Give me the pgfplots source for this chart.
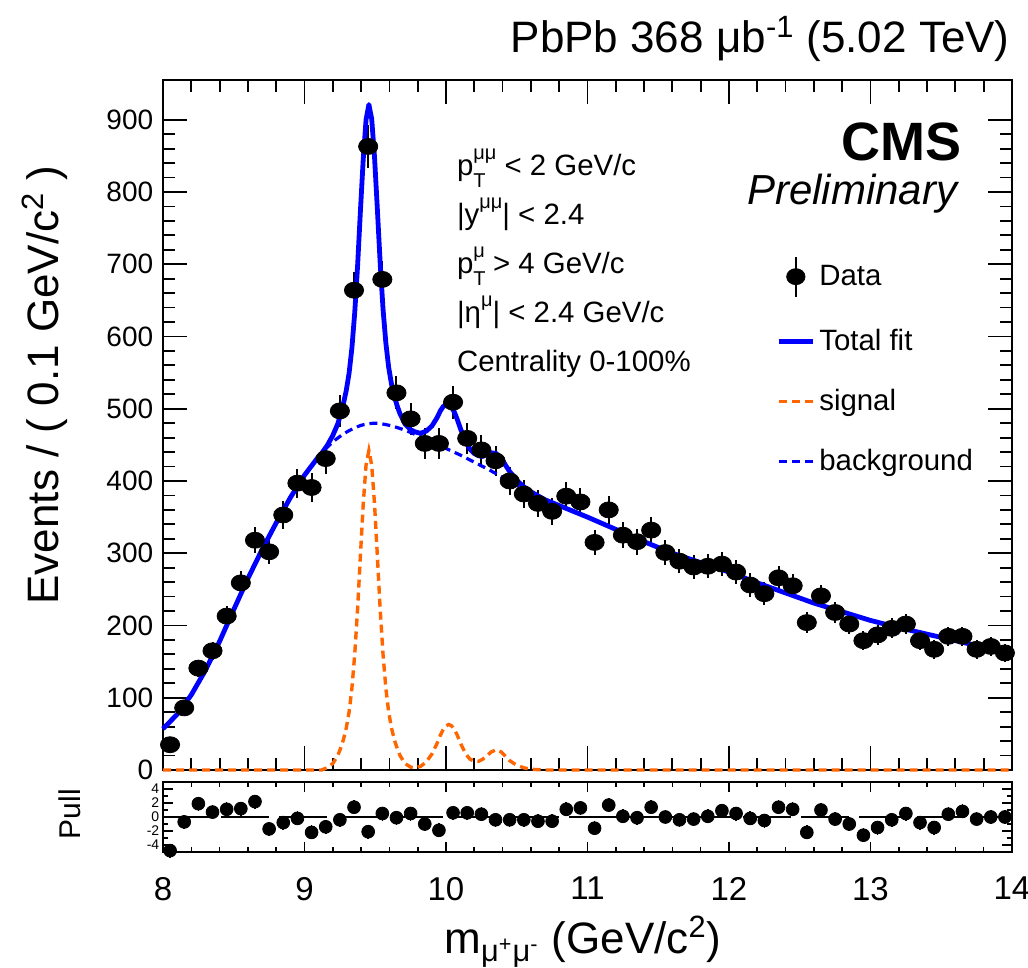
\documentclass[border=0pt]{standalone}
\usepackage{fontspec}
\setmainfont{Liberation Sans}
\usepackage{pgfplots}
\usepackage{pgfplotstable}
\pgfplotsset{compat=1.18}
\definecolor{sigorange}{RGB}{255,102,0}
\newcommand{\fs}[1]{\fontsize{#1}{#1}\selectfont}
\newcommand{\sub}[1]{\raisebox{-6pt}{\fs{10}#1}}
\newcommand{\sups}[1]{\raisebox{8pt}{\fs{10}#1}}

\pgfplotstableread{
m n e
8.05 35 5.9
8.15 86 9.3
8.25 141 11.9
8.35 165 12.8
8.45 213 14.6
8.55 259 16.1
8.65 318 17.8
8.75 302 17.4
8.85 353 18.8
8.95 397 19.9
9.05 391 19.8
9.15 431 20.8
9.25 497 22.3
9.35 664 25.8
9.45 863 29.4
9.55 679 26.1
9.65 522 22.8
9.75 486 22.0
9.85 452 21.3
9.95 452 21.3
10.05 509 22.6
10.15 459 21.4
10.25 443 21.0
10.35 428 20.7
10.45 400 20.0
10.55 382 19.5
10.65 369 19.2
10.75 358 18.9
10.85 379 19.5
10.95 371 19.3
11.05 315 17.7
11.15 360 19.0
11.25 325 18.0
11.35 316 17.8
11.45 332 18.2
11.55 301 17.3
11.65 289 17.0
11.75 281 16.8
11.85 282 16.8
11.95 285 16.9
12.05 274 16.6
12.15 256 16.0
12.25 244 15.6
12.35 266 16.3
12.45 255 16.0
12.55 204 14.3
12.65 241 15.5
12.75 218 14.8
12.85 202 14.2
12.95 179 13.4
13.05 187 13.7
13.15 196 14.0
13.25 202 14.2
13.35 179 13.4
13.45 167 12.9
13.55 185 13.6
13.65 185 13.6
13.75 167 12.9
13.85 171 13.1
13.95 162 12.7
}\datatab

\pgfplotstableread{
m p
8.05 -4.8
8.15 -0.7
8.25 1.9
8.35 0.7
8.45 1.1
8.55 1.2
8.65 2.2
8.75 -1.7
8.85 -0.8
8.95 -0.2
9.05 -2.2
9.15 -1.4
9.25 -0.4
9.35 1.4
9.45 -2.1
9.55 0.5
9.65 -0.1
9.75 0.5
9.85 -1.0
9.95 -1.9
10.05 0.6
10.15 0.6
10.25 0.4
10.35 -0.4
10.45 -0.4
10.55 -0.4
10.65 -0.6
10.75 -0.6
10.85 1.1
10.95 1.3
11.05 -1.6
11.15 1.7
11.25 0.1
11.35 -0.1
11.45 1.4
11.55 0.0
11.65 -0.4
11.75 -0.3
11.85 0.1
11.95 0.9
12.05 0.5
12.15 -0.2
12.25 -0.5
12.35 1.4
12.45 1.1
12.55 -2.2
12.65 1.0
12.75 -0.3
12.85 -1.0
12.95 -2.6
13.05 -1.5
13.15 -0.4
13.25 0.5
13.35 -0.8
13.45 -1.5
13.55 0.4
13.65 0.8
13.75 -0.3
13.85 0.0
13.95 0.0
}\pulltab

\begin{document}
\begin{tikzpicture}[x=1pt,y=1pt]
\useasboundingbox (0,0) rectangle (514,-484);
\begin{axis}[
  at={(81.5pt,-40pt)}, anchor=north west,
  scale only axis, width=424.5pt, height=345pt,
  xmin=8, xmax=14, ymin=0, ymax=955,
  xtick={8,9,...,14}, minor x tick num=4, xticklabels=\empty,
  ytick={0,100,...,900}, minor y tick num=4,
  tick align=inside, tick pos=both,
  major tick length=12pt, minor tick length=6pt,
  axis line style={line width=1.2pt},
  every tick/.style={black, line width=0.9pt},
  /pgf/number format/assume math mode=true,
  yticklabel style={font=\fs{14}, inner sep=1pt, xshift=-3.7pt},
  clip=false,
  legend style={at={(0.722,0.746)}, anchor=north west, draw=none, fill=none,
    font=\fs{14.7}, row sep=13.8pt, inner sep=0pt},
  legend cell align=left,
]
\addplot[only marks, mark=*, mark size=4pt, black, mark options={black, xscale=1.2},
  legend image code/.code={\draw[black,line width=1pt] (0.3cm,-10pt) -- (0.3cm,10pt);
    \fill[black] (0.3cm,0pt) ellipse [x radius=4.6pt, y radius=4pt];},
  error bars/.cd, y dir=both, y explicit, error mark=none,
  error bar style={line width=1pt, black}]
  table[x=m, y=n, y error=e] {\datatab};
\addplot[blue, line width=2.4pt, line join=round] coordinates {
(8.0,57) (8.1,77) (8.2,104) (8.3,138) (8.4,178) (8.5,222) (8.6,265) (8.7,305) (8.8,342) (8.9,377) (9.0,408) (9.1,434) (9.12,438) (9.16,449) (9.20,463) (9.235,479) (9.255,492) (9.275,507) (9.295,525) (9.315,549) (9.335,584) (9.355,633) (9.375,697) (9.395,773) (9.415,845) (9.435,900) (9.455,921) (9.475,901) (9.495,848) (9.515,776) (9.535,701) (9.555,638) (9.575,591) (9.595,557) (9.615,534) (9.635,517) (9.655,504) (9.675,493) (9.71,479) (9.75,471) (9.78,468) (9.82,466) (9.86,469) (9.90,476) (9.935,487) (9.96,497) (9.98,503) (10.00,506) (10.02,506) (10.04,502) (10.06,495) (10.08,485) (10.105,471) (10.14,454) (10.17,444) (10.20,438) (10.23,435) (10.26,434) (10.29,437) (10.32,439) (10.355,438) (10.39,432) (10.42,422) (10.45,413) (10.48,406) (10.51,399) (10.55,392) (10.6,385) (10.7,374) (10.8,366) (10.9,358) (11.0,350) (11.2,333) (11.4,316) (11.6,300) (11.8,287) (12.0,274) (12.2,259) (12.4,245) (12.6,231) (12.8,219) (13.0,207) (13.2,197) (13.4,188) (13.6,179) (13.8,170) (14.0,162)
};
\addplot[sigorange, line width=1.7pt, dash pattern=on 4pt off 2.5pt] coordinates {
(8.0,0) (9.12,0) (9.16,3) (9.20,9) (9.235,20) (9.255,30) (9.275,42) (9.295,58) (9.315,80) (9.335,113) (9.355,160) (9.375,222) (9.395,296) (9.415,368) (9.435,422) (9.455,442) (9.475,422) (9.495,368) (9.515,296) (9.535,222) (9.555,160) (9.575,113) (9.595,80) (9.615,58) (9.635,42) (9.655,30) (9.675,20) (9.71,9) (9.75,4) (9.78,3) (9.82,5) (9.86,11) (9.90,22) (9.935,36) (9.96,48) (9.98,56) (10.00,61) (10.02,63) (10.04,61) (10.06,56) (10.08,48) (10.105,36) (10.14,22) (10.17,15) (10.20,12) (10.23,12) (10.26,15) (10.29,20) (10.32,25) (10.355,28) (10.39,25) (10.42,19) (10.45,13) (10.48,9) (10.51,6) (10.55,3) (10.6,1) (10.7,0) (14,0)
};
\addplot[blue, line width=1.6pt, dash pattern=on 4pt off 2.5pt, smooth] coordinates {
(8.0,57) (8.1,77) (8.2,104) (8.3,138) (8.4,178) (8.5,222) (8.6,265) (8.7,305) (8.8,342) (8.9,377) (9.0,408) (9.1,434) (9.2,454) (9.3,468) (9.4,477) (9.5,480) (9.6,477) (9.7,471) (9.8,463) (9.9,454) (10.0,445) (10.1,436) (10.2,426) (10.3,416) (10.4,405) (10.5,394) (10.6,384) (10.7,374) (10.8,366) (10.9,358) (11.0,350) (11.2,333) (11.4,316) (11.6,300) (11.8,287) (12.0,274) (12.2,259) (12.4,245) (12.6,231) (12.8,219) (13.0,207) (13.2,197) (13.4,188) (13.6,179) (13.8,170) (14.0,162)
};
\legend{Data, Total fit, signal, background}
\node[anchor=base west, font=\fs{14.7}] at (rel axis cs:0.338,0.861) {p\rlap{\sub{T}}\sups{μμ} < 2 GeV/c};
\node[anchor=base west, font=\fs{14.7}] at (rel axis cs:0.338,0.791) {|y\sups{μμ}| < 2.4};
\node[anchor=base west, font=\fs{14.7}] at (rel axis cs:0.338,0.720) {p\rlap{\sub{T}}\sups{μ} > 4 GeV/c};
\node[anchor=base west, font=\fs{14.7}] at (rel axis cs:0.338,0.649) {|η\sups{μ}| < 2.4 GeV/c};
\node[anchor=base west, font=\fs{14.7}] at (rel axis cs:0.338,0.578) {Centrality 0-100\%};
\node[anchor=base east, font=\fs{27}\bfseries, inner sep=0pt] at (rel axis cs:0.941,0.884) {CMS};
\node[anchor=base east, font=\fs{21}\itshape, inner sep=0pt] at (rel axis cs:0.936,0.820) {Preliminary};
\end{axis}

\begin{axis}[
  at={(81.5pt,-391pt)}, anchor=north west,
  scale only axis, width=424.5pt, height=35pt,
  xmin=8, xmax=14, ymin=-5, ymax=5,
  xtick={8,9,...,14}, minor x tick num=4,
  ytick={-4,-2,0,2,4}, minor y tick num=1,
  tick align=inside, tick pos=both,
  major tick length=5pt, minor tick length=2.5pt,
  axis line style={line width=1.2pt},
  every tick/.style={black, line width=0.8pt},
  /pgf/number format/assume math mode=true,
  xticklabel style={font=\fs{16.5}, yshift=-9pt},
  yticklabel style={font=\fs{7}, inner sep=0.2pt, xshift=-1.5pt},
  clip=false,
]
\addplot[black, line width=1pt, dash pattern=on 24pt off 5pt] coordinates {(8,0) (14,0)};
\addplot[only marks, mark=*, mark size=3.2pt, black, mark options={black},
  error bars/.cd, y dir=both, y fixed=1, error mark=none,
  error bar style={line width=0.8pt, black}]
  table[x=m, y=p] {\pulltab};
\end{axis}

\node[anchor=base east, font=\fs{22}, inner sep=0pt] at (505,-26.5) {PbPb 368 μb\textsuperscript{-1} (5.02 TeV)};
\node[rotate=90, font=\fs{22}, inner sep=0pt] at (22.5,-192.5) {Events / ( 0.1 GeV/c\textsuperscript{2} )};
\node[anchor=base, font=\fs{22}, inner sep=0pt] at (291.5,-476.5) {m\textsubscript{μ\textsuperscript{+}μ\textsuperscript{-}} (GeV/c\textsuperscript{2})};
\node[rotate=90, font=\fs{15}, inner sep=0pt] at (35,-407) {Pull};
\end{tikzpicture}
\end{document}
